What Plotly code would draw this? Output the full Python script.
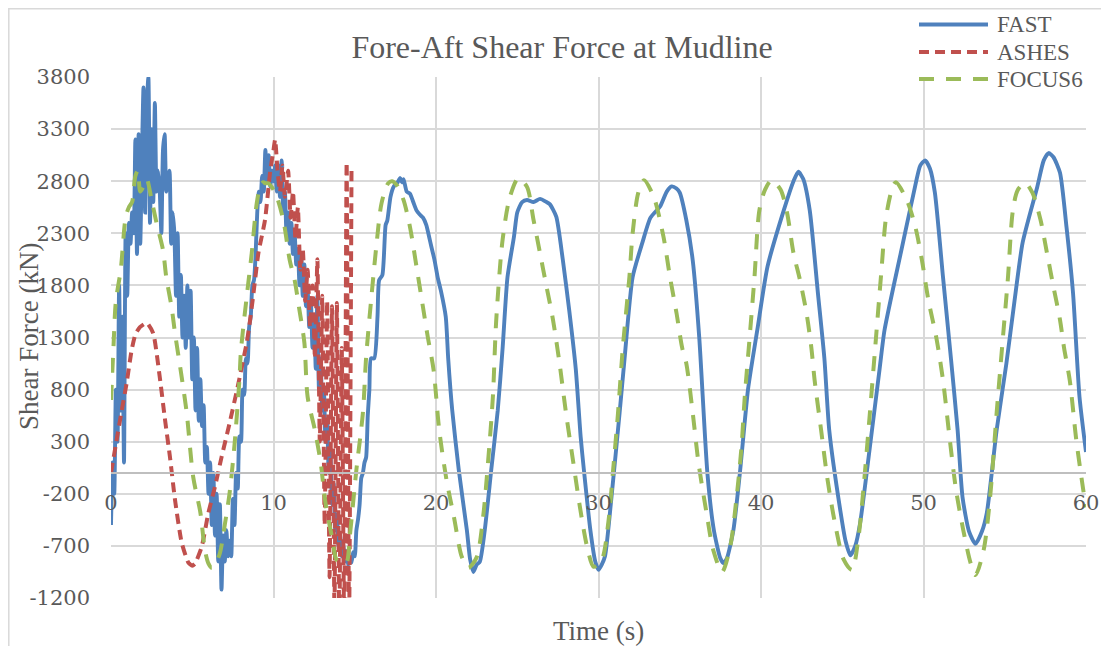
import plotly.graph_objects as go

# ---------------- data ----------------
fast_t = [
    0.0, 0.1, 0.2, 0.3, 0.4, 0.5, 0.6, 0.7, 0.8, 0.9,
    1.0, 1.1, 1.2, 1.3, 1.4, 1.5, 1.6, 1.7, 1.8, 1.9,
    2.0, 2.1, 2.2, 2.3, 2.4, 2.5, 2.6, 2.7, 2.8, 2.9,
    3.0, 3.1, 3.2, 3.3, 3.4, 3.5, 3.6, 3.7, 3.8, 3.9,
    4.0, 4.1, 4.2, 4.3, 4.4, 4.5, 4.6, 4.7, 4.8, 4.9,
    5.0, 5.1, 5.2, 5.3, 5.4, 5.5, 5.6, 5.7, 5.8, 5.9,
    6.0, 6.1, 6.2, 6.3, 6.4, 6.5, 6.6, 6.7, 6.8, 6.9,
    7.0, 7.1, 7.2, 7.3, 7.4, 7.5, 7.6, 7.7, 7.8, 7.9,
    8.0, 8.1, 8.2, 8.3, 8.4, 8.5, 8.6, 8.7, 8.8, 8.9,
    9.0, 9.1, 9.2, 9.3, 9.4, 9.5, 9.6, 9.7, 9.8, 9.9,
    10.0, 10.1, 10.2, 10.3, 10.4, 10.5, 10.6, 10.7, 10.8, 10.9,
    11.0, 11.1, 11.2, 11.3, 11.4, 11.5, 11.6, 11.7, 11.8, 11.9,
    12.0, 12.1, 12.2, 12.3, 12.4, 12.5, 12.6, 12.7, 12.8, 12.9,
    13.0, 13.1, 13.2, 13.3, 13.4, 13.5, 13.6, 13.7, 13.8, 13.9,
    14.0, 14.1, 14.2, 14.3, 14.4, 14.5, 14.6, 14.7, 14.8, 14.9,
    15.0, 15.1, 15.2, 15.3, 15.4, 15.5, 15.6, 15.7, 15.8, 15.9,
    16.0, 16.2, 16.4, 16.5, 16.7, 16.9, 17.0, 17.2, 17.4, 17.6,
    17.8, 17.9, 18.0, 18.2, 18.4, 18.6, 18.8, 19.0, 19.2, 19.4,
    19.6, 19.7, 19.9, 20.1, 20.3, 20.6, 20.75, 21.0, 21.4, 21.9,
    22.1, 22.3, 22.5, 22.7, 23.0, 23.4, 23.8, 24.1, 24.4, 24.8,
    25.0, 25.3, 25.6, 26.0, 26.4, 26.8, 27.0, 27.4, 27.8, 28.2,
    28.6, 28.9, 29.1, 29.5, 29.8, 30.0, 30.2, 30.4, 30.8, 31.3,
    31.6, 32.1, 32.7, 33.2, 33.8, 34.2, 34.5, 34.8, 35.0, 35.4,
    35.8, 36.2, 36.7, 37.1, 37.5, 37.7, 37.9, 38.3, 38.7, 39.2,
    39.5, 39.8, 40.4, 41.4, 42.0, 42.3, 42.6, 43.0, 43.5, 43.9,
    44.2, 44.9, 45.2, 45.5, 45.8, 46.1, 46.7, 47.3, 47.6, 48.6,
    49.4, 49.8, 50.1, 50.4, 50.7, 51.2, 51.7, 52.1, 52.4, 52.8,
    53.2, 53.6, 53.9, 54.5, 55.1, 55.6, 56.1, 57.0, 57.4, 57.7,
    58.0, 58.4, 58.8, 59.2, 59.6, 60.0,
]
fast_kN = [
    -500, 100, -200, 800, 300, 1800, 600, 1500, 100, 2300,
    1700, 2400, 2200, 2500, 2300, 3200, 2100, 3250, 2200, 3000,
    3700, 2500, 3500, 3800, 2400, 3300, 2600, 3550, 2700, 2900,
    2700, 2300, 3100, 3250, 2700, 2800, 2900, 2200, 2500, 2300,
    1700, 2300, 1500, 1900, 1300, 1700, 1200, 1800, 1300, 1750,
    900, 1300, 600, 1200, 500, 900, 450, 650, 100, 250,
    -200, 100, -500, 0, -600, -200, -850, -300, -1120, -600,
    -850, -550, -800, -650, -800, -250, -500, 0, -150, 350,
    300, 800, 750, 1100, 1050, 1400, 1500, 1800, 1850, 2100,
    2500, 2700, 2600, 2850, 2700, 3100, 2800, 3050, 2750, 2900,
    2800, 2950, 2700, 2950, 2650, 3000, 2500, 2700, 2300, 2500,
    2200, 2400, 2100, 2300, 2000, 2150, 1800, 2100, 1700, 2000,
    1600, 1750, 1400, 1650, 1200, 1500, 1000, 1700, 800, 1100,
    600, 800, 300, 500, 0, 200, -300, -100, -550, -400,
    -700, -600, -800, -700, -850, -750, -880, -820, -860, -760,
    -800, -550, -450, -300, -50, 0, 100, 150, 550, 800,
    1100, 1100, 1500, 1850, 1900, 2380, 2420, 2650, 2750, 2780,
    2830, 2790, 2820, 2700, 2680, 2600, 2520, 2480, 2450, 2380,
    2250, 2180, 2050, 1880, 1750, 1500, 1100, 600, 30, -550,
    -830, -950, -880, -850, -550, 30, 600, 1200, 1880, 2270,
    2500, 2600, 2620, 2600, 2630, 2600, 2580, 2460, 2050, 1560,
    1000, 350, 30, -550, -850, -930, -880, -800, -230, 580,
    1090, 1880, 2210, 2450, 2560, 2700, 2750, 2730, 2690, 2430,
    2040, 1300, 0, -550, -820, -865, -820, -550, 0, 800,
    1110, 1400, 1980, 2520, 2800, 2890, 2820, 2520, 1730, 1100,
    410, -380, -650, -790, -700, -480, 250, 1000, 1370, 2110,
    2690, 2950, 3000, 2920, 2690, 1880, 1080, 410, -230, -560,
    -680, -560, -380, 410, 1050, 1650, 2210, 2745, 3000, 3070,
    3030, 2880, 2360, 1730, 730, 200,
]

ashes_t = [
    0.0, 0.35, 0.66, 0.96, 1.27, 1.5, 1.78, 2.2, 2.6, 3.0,
    3.3, 3.63, 3.94, 4.35, 4.76, 5.0, 5.17, 5.58, 5.99, 6.4,
    6.8, 7.3, 7.8, 8.35, 8.5, 8.75, 9.07, 9.48, 9.8, 10.0,
    10.1, 10.25, 10.4, 10.55, 10.7, 10.9, 11.05, 11.2, 11.35, 11.5,
    11.65, 11.8, 11.95, 12.1, 12.25, 12.4, 12.55, 12.7, 12.85, 13.0,
    13.15, 13.3, 13.45, 13.6, 13.75, 13.9, 14.05, 14.2, 14.35, 14.5,
    14.65, 14.8,
]
ashes_kN = [
    0, 320, 600, 860, 1180, 1330, 1400, 1440, 1340, 920,
    540, 150, -260, -670, -860, -890, -870, -710, -385, -130,
    150, 480, 830, 1250, 1400, 1700, 2110, 2430, 2900, 3100,
    3200, 2900, 2700, 2950, 2650, 2900, 2450, 2700, 2250, 2550,
    1950, 2150, 1650, 1950, 1400, 1800, 1100, 2050, 300, 1700,
    -500, 1650, -1000, 1600, -1300, 1630, -1500, 1200, -1500, 2980,
    -1500, 2900,
]

focus_t = [
    0.0, 0.15, 0.3, 0.6, 0.9, 1.1, 1.3, 1.5, 1.65, 1.8,
    2.0, 2.2, 2.5, 2.8, 3.2, 3.4, 3.73, 3.94, 4.35, 4.66,
    5.06, 5.5, 5.78, 6.0, 6.2, 6.4, 6.7, 7.0, 7.3, 7.6,
    7.9, 8.0, 8.35, 8.66, 8.97, 9.2, 9.37, 9.5, 9.68, 10.1,
    10.6, 11.0, 11.3, 11.6, 11.9, 12.1, 12.55, 12.9, 13.2, 13.6,
    13.9, 14.3, 14.5, 14.7, 15.1, 15.5, 15.7, 16.05, 16.35, 16.65,
    17.06, 17.3, 17.6, 18.0, 18.4, 18.8, 19.2, 19.5, 19.85, 20.2,
    20.65, 21.1, 21.6, 22.0, 22.5, 22.9, 23.2, 23.5, 23.7, 24.1,
    24.55, 25.07, 25.6, 26.0, 26.4, 26.8, 27.2, 27.6, 28.0, 28.45,
    28.86, 29.3, 29.7, 30.2, 30.6, 30.9, 31.2, 31.5, 31.9, 32.1,
    32.45, 32.8, 33.4, 34.0, 34.4, 34.8, 35.15, 35.4, 35.8, 36.15,
    36.65, 37.06, 37.6, 38.1, 38.5, 38.8, 39.0, 39.3, 39.6, 39.9,
    40.25, 40.65, 41.2, 41.6, 42.0, 42.4, 42.8, 43.1, 43.3, 43.7,
    44.1, 44.55, 45.1, 45.6, 46.0, 46.3, 46.7, 47.0, 47.4, 47.7,
    48.1, 48.3, 48.97, 49.5, 49.9, 50.3, 50.8, 51.2, 51.6, 52.0,
    52.45, 52.9, 53.2, 53.7, 54.1, 54.5, 54.85, 55.2, 55.5, 55.8,
    56.25, 56.7, 57.2, 57.6, 58.0, 58.4, 58.65, 59.0, 59.4, 59.8,
    60.0,
]
focus_kN = [
    700, 1200, 1650, 1950, 2450, 2550, 2600, 2850, 2900, 2700,
    2750, 2820, 2620, 2400, 2140, 1880, 1590, 1340, 920, 575,
    -40, -380, -740, -870, -910, -880, -770, -500, -190, 270,
    890, 1180, 1690, 2110, 2590, 2760, 2790, 2780, 2780, 2690,
    2430, 2040, 1850, 1560, 1250, 730, 410, 100, -290, -615,
    -840, -870, -860, -600, 30, 575, 1110, 1730, 2210, 2590,
    2780, 2800, 2760, 2620, 2360, 1980, 1590, 1300, 990, 410,
    -70, -420, -810, -910, -810, -420, 100, 730, 1450, 2240,
    2650, 2830, 2745, 2430, 2110, 1790, 1470, 1055, 575, 100,
    -330, -710, -900, -835, -480, 30, 575, 1210, 1880, 2300,
    2690, 2810, 2650, 2265, 1880, 1535, 1200, 1055, 575, 100,
    -385, -740, -950, -710, -230, 250, 730, 1300, 1880, 2520,
    2720, 2810, 2720, 2500, 2110, 1850, 1535, 1200, 890, 410,
    -70, -480, -835, -930, -615, -160, 575, 1150, 1920, 2460,
    2745, 2790, 2620, 2360, 2045, 1660, 1290, 890, 345, -160,
    -550, -865, -980, -740, -230, 575, 1230, 1880, 2520, 2715,
    2785, 2690, 2430, 2110, 1785, 1470, 1200, 890, 320, -130,
    -330,
]

series_names = ["FAST", "ASHES", "FOCUS6"]
x_ticks = [0, 10, 20, 30, 40, 50, 60]
y_ticks = [-1200, -700, -200, 300, 800, 1300, 1800, 2300, 2800, 3300, 3800]
y_tick_text = ["-1200", "-700", "-200", "300", "800", "1300", "1800", "2300", "2800", "3300", "3800"]

# ---------------- styling ----------------
OFF = 8                      # browser body margin that offsets the figure in the window
W, H = 1109 - OFF, 646 - OFF
L, T = 111 - OFF, 77 - OFF
R = W - (1086 - OFF)
B = H - (598 - OFF)
PW, PH = W - L - R, H - T - B
C_FAST, C_ASHES, C_FOCUS = "#4F81BD", "#C0504D", "#9BBB59"
TXT = "#595959"
GRID = "#d9d9d9"
SERIF = "Liberation Serif, DejaVu Serif, serif"
NUMF = "DejaVu Serif, Liberation Serif, serif"
dash_ashes = "10px,6px"
dash_focus = "15px,12px"


def px_x(p):  # window pixel -> paper x
    return (p - OFF - L) / PW


def px_y(p):  # window pixel -> paper y
    return (H - B - (p - OFF)) / PH


fig = go.Figure()
fig.add_trace(go.Scatter(x=fast_t, y=fast_kN, name=series_names[0], mode="lines",
                         line=dict(color=C_FAST, width=3.9, shape="spline", smoothing=0.6)))
fig.add_trace(go.Scatter(x=ashes_t, y=ashes_kN, name=series_names[1], mode="lines",
                         line=dict(color=C_ASHES, width=4, dash=dash_ashes, shape="spline", smoothing=0.5)))
fig.add_trace(go.Scatter(x=focus_t, y=focus_kN, name=series_names[2], mode="lines",
                         line=dict(color=C_FOCUS, width=4, dash=dash_focus, shape="spline", smoothing=0.8)))

y0, y1 = y_ticks[0], y_ticks[-1]
zero_pos = (0 - y0) / (y1 - y0)

fig.update_layout(
    template="none",
    width=W, height=H,
    margin=dict(l=L, r=R, t=T, b=B, pad=0, autoexpand=False),
    paper_bgcolor="white", plot_bgcolor="white",
    showlegend=False,
    title=dict(text="Fore-Aft Shear Force at Mudline", x=px_x(562), xref="paper", xanchor="center",
               y=1 - (47 - OFF) / H, yref="container", yanchor="middle",
               font=dict(family=SERIF, size=32, color=TXT)),
    xaxis=dict(range=[x_ticks[0], x_ticks[-1]], tickvals=x_ticks, anchor="free", position=zero_pos,
               automargin=False,
               showgrid=True, gridcolor=GRID, gridwidth=1.5, zeroline=False,
               showline=True, linecolor="#bfbfbf", linewidth=1.5, ticks="",
               ticklabelstandoff=11, tickfont=dict(family=NUMF, size=21, color=TXT)),
    yaxis=dict(range=[y0, y1], tickvals=y_ticks, ticktext=y_tick_text, automargin=False,
               showgrid=True, gridcolor=GRID, gridwidth=1.5,
               zeroline=False, showline=False, ticks="", ticklabelstandoff=20,
               tickfont=dict(family=NUMF, size=21, color=TXT)),
)

# outer chart frame (top and left edges visible in the reference)
fig.add_shape(type="rect", xref="paper", yref="paper",
              x0=px_x(8.8), x1=px_x(1200), y0=px_y(700), y1=px_y(8.8),
              line=dict(color=GRID, width=1.5), layer="below")

# axis titles
fig.add_annotation(text="Time (s)", xref="paper", yref="paper", x=px_x(598), y=px_y(631),
                   showarrow=False, xanchor="center", yanchor="middle",
                   font=dict(family=SERIF, size=27, color=TXT))
fig.add_annotation(text="Shear Force (kN)", xref="paper", yref="paper", x=px_x(29), y=px_y(337),
                   showarrow=False, textangle=-90, xanchor="center", yanchor="middle",
                   font=dict(family=SERIF, size=27, color=TXT))

# legend (drawn manually to match long sample lines)
leg = [(series_names[0], C_FAST, "solid", 24.5), (series_names[1], C_ASHES, dash_ashes, 52),
       (series_names[2], C_FOCUS, dash_focus, 79)]
for name, col, dsh, yy in leg:
    fig.add_shape(type="line", xref="paper", yref="paper", x0=px_x(919), x1=px_x(988),
                  y0=px_y(yy), y1=px_y(yy), line=dict(color=col, width=4, dash=dsh))
    fig.add_annotation(text=name, xref="paper", yref="paper", x=px_x(995), y=px_y(yy),
                       showarrow=False, xanchor="left", yanchor="middle",
                       font=dict(family=SERIF, size=23, color=TXT))

fig.write_html("out.html")
